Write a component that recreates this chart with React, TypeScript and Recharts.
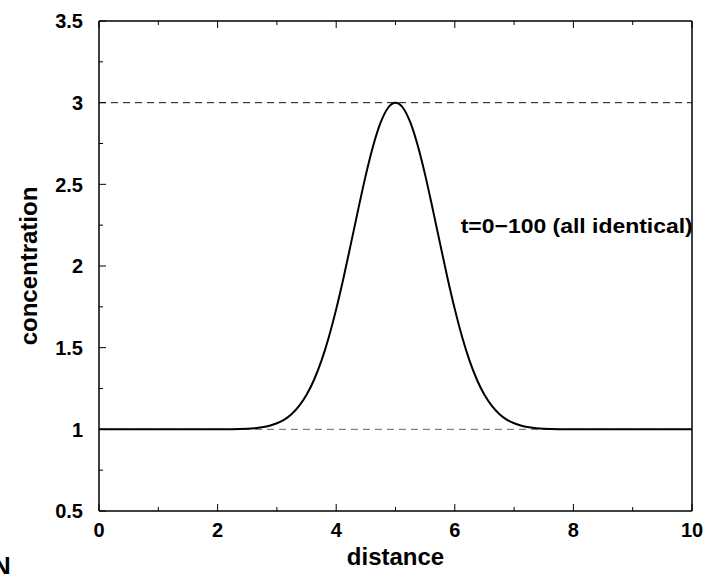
import { LineChart, Line, XAxis, YAxis, ReferenceLine, ReferenceDot } from "recharts";

// concentration profile (same for every t)
const distance = [
  0, 1, 2, 2.5, 2.625, 2.75, 2.875, 3, 3.125, 3.25, 3.375, 3.5, 3.625, 3.75, 3.875, 4, 4.125, 4.25, 4.375, 4.5,
  4.625, 4.75, 4.875, 5, 5.125, 5.25, 5.375, 5.5, 5.625, 5.75, 5.875, 6, 6.125, 6.25, 6.375, 6.5, 6.625, 6.75,
  6.875, 7, 7.125, 7.25, 7.375, 7.5, 8, 9, 10,
];
const concentration = [
  1, 1, 1, 1.004, 1.007, 1.013, 1.022, 1.037, 1.059, 1.094, 1.143, 1.211, 1.302, 1.419, 1.564, 1.736, 1.93, 2.14,
  2.353, 2.558, 2.738, 2.879, 2.969, 3.0, 2.969, 2.879, 2.738, 2.558, 2.353, 2.14, 1.93, 1.736, 1.564, 1.419, 1.302,
  1.211, 1.143, 1.094, 1.059, 1.037, 1.022, 1.013, 1.007, 1.004, 1, 1, 1,
];

const xTicks = [0, 1, 2, 3, 4, 5, 6, 7, 8, 9, 10];
const xLabelled = [0, 2, 4, 6, 8, 10];
const yTicks = [0.5, 0.75, 1, 1.25, 1.5, 1.75, 2, 2.25, 2.5, 2.75, 3, 3.25, 3.5];
const yLabelled = [0.5, 1, 1.5, 2, 2.5, 3, 3.5];

const dashedLevels = [
  { y: 3, stroke: "#111" },
  { y: 1, stroke: "#666" },
];
const note = { x: 6.1, y: 2.2, text: "t=0\u2212100 (all identical)" };

const FONT = "'Liberation Sans', Arial, Helvetica, sans-serif";
const MAJOR = 7;
const MINOR = 4;

const data = distance.map((d, i) => ({ d, c: concentration[i] }));

const frame = { stroke: "#000", strokeWidth: 1.5 };

function BottomTick(props: any) {
  const { x, y, payload } = props;
  const axisY = y - 26;
  const major = xLabelled.includes(payload.value);
  return (
    <g>
      <line x1={x} x2={x} y1={axisY} y2={axisY - (major ? MAJOR : MINOR)} stroke="#000" strokeWidth={1} />
      {major && (
        <text x={x} y={y} textAnchor="middle" fontFamily={FONT} fontWeight="bold" fontSize={20} fill="#000">
          {payload.value}
        </text>
      )}
    </g>
  );
}

function TopTick(props: any) {
  const { x, y, payload } = props;
  const major = xLabelled.includes(payload.value);
  return <line x1={x} x2={x} y1={y} y2={y + (major ? MAJOR : MINOR)} stroke="#000" strokeWidth={1} />;
}

function LeftTick(props: any) {
  const { x, y, payload } = props;
  const axisX = x + 16;
  const major = yLabelled.includes(payload.value);
  return (
    <g>
      <line x1={axisX} x2={axisX + (major ? MAJOR : MINOR)} y1={y} y2={y} stroke="#000" strokeWidth={1} />
      {major && (
        <text x={x} y={y} dy="0.36em" textAnchor="end" fontFamily={FONT} fontWeight="bold" fontSize={20} fill="#000">
          {payload.value}
        </text>
      )}
    </g>
  );
}

function RightTick(props: any) {
  const { x, y, payload } = props;
  const major = yLabelled.includes(payload.value);
  return <line x1={x} x2={x - (major ? MAJOR : MINOR)} y1={y} y2={y} stroke="#000" strokeWidth={1} />;
}

export default function App() {
  return (
    <div style={{ position: "relative", width: 712, height: 574, overflow: "hidden", background: "#fff" }}>
      <style>{`body{margin:0}`}</style>
      <LineChart width={712} height={574} data={data} margin={{ top: 20, right: 19, bottom: 0, left: 0 }}>
        <XAxis
          dataKey="d" type="number" domain={[0, 10]} ticks={xTicks} interval={0}
          height={63} tickSize={0} tickMargin={26} axisLine={frame} tickLine={false}
          tick={<BottomTick />}
          label={({ viewBox }: any) => (
            <text
              x={viewBox.x + viewBox.width / 2} y={viewBox.y + 54} textAnchor="middle"
              fontFamily={FONT} fontWeight="bold" fontSize={24} fill="#000"
            >
              distance
            </text>
          )}
        />
        <XAxis
          xAxisId="top" orientation="top" dataKey="d" type="number" domain={[0, 10]}
          ticks={xTicks} interval={0} height={1} tickSize={0} tickMargin={0}
          axisLine={frame} tickLine={false} tick={<TopTick />}
        />
        <YAxis
          type="number" domain={[0.5, 3.5]} ticks={yTicks} interval={0}
          width={99} tickSize={0} tickMargin={16} axisLine={frame} tickLine={false}
          tick={<LeftTick />}
          label={({ viewBox }: any) => (
            <text
              x={viewBox.x + 37} y={viewBox.y + viewBox.height / 2} textAnchor="middle"
              transform={`rotate(-90 ${viewBox.x + 37} ${viewBox.y + viewBox.height / 2})`}
              fontFamily={FONT} fontWeight="bold" fontSize={24} fill="#000"
            >
              concentration
            </text>
          )}
        />
        <YAxis
          yAxisId="right" orientation="right" type="number" domain={[0.5, 3.5]}
          ticks={yTicks} interval={0} width={1} tickSize={0} tickMargin={0}
          axisLine={frame} tickLine={false} tick={<RightTick />}
        />
        {dashedLevels.map((l) => (
          <ReferenceLine key={l.y} y={l.y} stroke={l.stroke} strokeWidth={1} strokeDasharray="7 5" />
        ))}
        <Line
          dataKey="c" type="monotone" stroke="#000" strokeWidth={2}
          dot={false} activeDot={false} isAnimationActive={false}
        />
        <ReferenceDot
          x={note.x} y={note.y} r={0} fill="none" stroke="none"
          label={({ viewBox }: any) => (
            <text
              x={viewBox.x} y={viewBox.y} textAnchor="start" textLength={232} lengthAdjust="spacingAndGlyphs"
              fontFamily={FONT} fontWeight="bold" fontSize={20} fill="#000"
            >
              {note.text}
            </text>
          )}
        />
      </LineChart>
      <div
        style={{
          position: "absolute", left: -8, top: 551, fontFamily: FONT, fontWeight: "bold",
          fontSize: 26, lineHeight: "30px", color: "#000",
        }}
      >
        N
      </div>
    </div>
  );
}
